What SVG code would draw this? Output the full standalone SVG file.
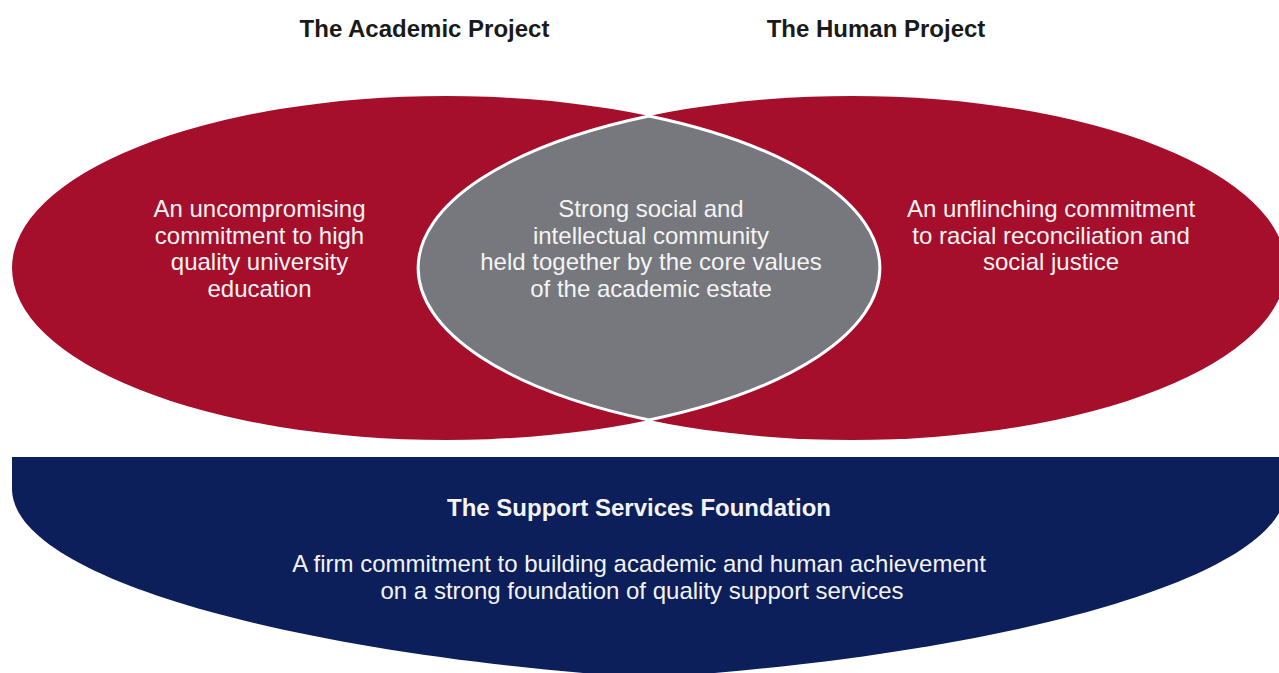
<svg xmlns="http://www.w3.org/2000/svg" width="1279" height="673" viewBox="0 0 1279 673">
  <style>
    text { font-family: "Liberation Sans", Arial, sans-serif; text-anchor: middle; font-size: 24px; }
    .title { font-weight: bold; fill: #1a1a1a; }
    .body { fill: #f4f4f4; }
    .found-title { font-weight: bold; fill: #f4f4f4; }
    .red { fill: #a50f2c; }
    .lens { fill: #76787e; stroke: #ffffff; stroke-width: 3; }
    .base { fill: #0c1f5b; }
  </style>
  <rect width="1279" height="673" fill="#ffffff"/>

  <!-- Column headings -->
  <g id="heading-academic">
    <text class="title" x="424.5" y="37">The Academic Project</text>
  </g>
  <g id="heading-human">
    <text class="title" x="876" y="37">The Human Project</text>
  </g>

  <!-- Left ellipse: academic project -->
  <g id="academic-project">
    <ellipse class="red" cx="446" cy="268" rx="434" ry="172"/>
    <text class="body" x="259.5" y="217">An uncompromising</text>
    <text class="body" x="259.5" y="243.5">commitment to high</text>
    <text class="body" x="259.5" y="270">quality university</text>
    <text class="body" x="259.5" y="296.5">education</text>
  </g>

  <!-- Right ellipse: human project -->
  <g id="human-project">
    <ellipse class="red" cx="852" cy="268" rx="434" ry="172"/>
    <text class="body" x="1051" y="217">An unflinching commitment</text>
    <text class="body" x="1051" y="243.5">to racial reconciliation and</text>
    <text class="body" x="1051" y="270">social justice</text>
  </g>

  <!-- Overlap of the two ellipses -->
  <g id="community">
    <path class="lens" d="M649,116 A434,172 0 0,1 649,420 A434,172 0 0,1 649,116 Z"/>
    <text class="body" x="651" y="217">Strong social and</text>
    <text class="body" x="651" y="243.5">intellectual community</text>
    <text class="body" x="651" y="270">held together by the core values</text>
    <text class="body" x="651" y="296.5">of the academic estate</text>
  </g>

  <!-- Foundation base -->
  <g id="support-services">
    <path class="base" d="M12,457 H1286 V490 C1283,580 998,655 649,678 C300,655 15,580 12,490 Z"/>
    <text class="found-title" x="639" y="515.5">The Support Services Foundation</text>
    <text class="body" x="639" y="571.5">A firm commitment to building academic and human achievement</text>
    <text class="body" x="642" y="598.5">on a strong foundation of quality support services</text>
  </g>

  <g id="connectors"/>
</svg>
